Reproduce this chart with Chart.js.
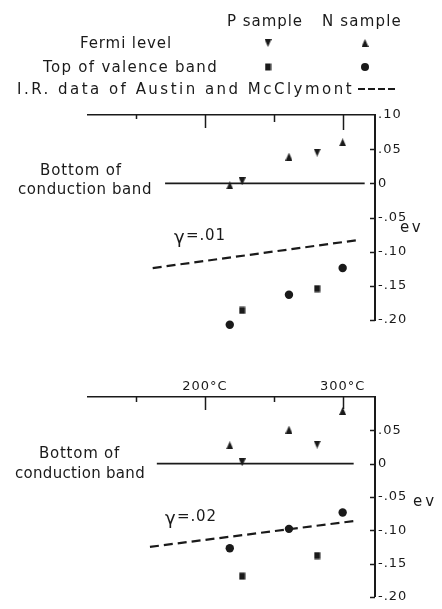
<!DOCTYPE html>
<html lang="en">
<head>
<meta charset="UTF-8">
<title>Fermi level and valence band vs temperature</title>
<script src="https://cdn.jsdelivr.net/npm/chart.js"></script>
<style>
    body { margin: 0; background: #fff; }
    .wrap { position: relative; width: 442px; height: 609px; }
    .panel { position: absolute; left: 0; width: 442px; }
    #top { top: 0; height: 340px; }
    #bottom { top: 340px; height: 269px; }
</style>
</head>
<body>
<div class="wrap">
    <div class="panel" id="top"><canvas id="chartTop"></canvas></div>
    <div class="panel" id="bottom"><canvas id="chartBottom"></canvas></div>
</div>
<script>
// temperatures of the runs (°C)
const tempN = [218, 261, 300];
const tempP = [227, 281.5];
const condLevel = [0, 0];

// upper panel, gamma = .01
const topFermiN = [-0.003, 0.039, 0.060];
const topFermiP = [0.003, 0.045];
const topValenceN = [-0.207, -0.163, -0.124];
const topValenceP = [-0.186, -0.154];
const topIRTemp = [162, 311];
const topIR = [-0.124, -0.083];
const topCondTemp = [171, 316];

// lower panel, gamma = .02
const botFermiN = [0.0275, 0.051, 0.079];
const botFermiP = [0.002, 0.0285];
const botValenceN = [-0.127, -0.098, -0.0735];
const botValenceP = [-0.169, -0.138];
const botIRTemp = [160, 309];
const botIR = [-0.125, -0.086];
const botCondTemp = [165, 308];

// axes
const xTicks = [150, 200, 250, 300];
const xTickLabels = ['', '200°C', '', '300°C'];
const yTicks = [0.10, 0.05, 0, -0.05, -0.10, -0.15, -0.20];
const topYLabels = ['.10', '.05', '0', '-.05', '-.10', '-.15', '-.20'];
const botYLabels = ['', '.05', '0', '-.05', '-.10', '-.15', '-.20'];

const ink = '#1a1a1a';
const FONT = '"DejaVu Sans"';
Chart.defaults.font.family = FONT;
Chart.defaults.color = ink;

function makeMark(kind) {
    const c = document.createElement('canvas');
    c.width = 7; c.height = 8;
    const g = c.getContext('2d');
    g.fillStyle = ink;
    g.beginPath();
    if (kind === 'up') { g.moveTo(3.5, 0); g.lineTo(7, 8); g.lineTo(0, 8); }
    else if (kind === 'down') { g.moveTo(0, 0); g.lineTo(7, 0); g.lineTo(3.5, 8); }
    else { g.rect(0.5, 0.5, 6, 7); }
    g.closePath();
    g.fill();
    return c;
}
const triUp = makeMark('up');
const triDown = makeMark('down');
const box = makeMark('box');

function pts(xs, ys) {
    return xs.map((x, i) => ({ x: x, y: ys[i] }));
}

// text stretched to the width it has in the figure
function fitText(ctx, t, x, y, w, size) {
    ctx.font = size + 'px ' + FONT;
    ctx.letterSpacing = '0px';
    const m = ctx.measureText(t).width;
    ctx.letterSpacing = ((w - m) / t.length) + 'px';
    ctx.textAlign = 'left';
    ctx.textBaseline = 'middle';
    ctx.fillText(t, x, y);
    ctx.letterSpacing = '0px';
}

function makeMarks(cfg) {
    return {
        id: 'marks',
        beforeDraw(chart) {
            chart.ctx.letterSpacing = '1px';
        },
        afterDraw(chart) {
            const ctx = chart.ctx;
            const a = chart.chartArea;
            const sx = chart.scales.x, sy = chart.scales.y;
            const off = cfg.offset;
            ctx.save();
            ctx.letterSpacing = '0px';
            ctx.strokeStyle = ink;
            ctx.fillStyle = ink;
            ctx.lineWidth = 1.5;
            // ticks pointing inward
            xTicks.forEach((v, i) => {
                const px = Math.round(sx.getPixelForValue(v)) + 0.5;
                ctx.beginPath();
                ctx.moveTo(px, a.top);
                ctx.lineTo(px, a.top + cfg.xTickLen[i]);
                ctx.stroke();
            });
            yTicks.forEach(v => {
                if (v >= 0.1) return;
                const py = Math.round(sy.getPixelForValue(v)) + 0.5;
                ctx.beginPath();
                ctx.moveTo(a.right, py);
                ctx.lineTo(a.right - 5, py);
                ctx.stroke();
            });
            // texts
            cfg.texts.forEach(t => fitText(ctx, t.t, t.x, t.y - off, t.w, t.size || 15));
            const gm = cfg.gamma;
            ctx.font = '18px ' + FONT;
            ctx.textAlign = 'left';
            ctx.textBaseline = 'middle';
            ctx.fillText('γ', gm.x, gm.y - off + 2);
            fitText(ctx, gm.t, gm.x + 12, gm.y - off, gm.w, 15);

            if (cfg.legend) {
                [[triDown, 268, 43], [box, 268, 67], [triUp, 365, 43]].forEach(m => {
                    ctx.drawImage(m[0], m[1] - 3.5, m[2] - 4);
                });
                ctx.beginPath();
                ctx.arc(365, 67, 4, 0, Math.PI * 2);
                ctx.fill();
                ctx.lineWidth = 2.2;
                ctx.setLineDash([7, 3]);
                ctx.beginPath();
                ctx.moveTo(358, 89);
                ctx.lineTo(396, 89);
                ctx.stroke();
                ctx.setLineDash([]);
            }
            ctx.restore();
        }
    };
}

function panel(id, d) {
    return new Chart(document.getElementById(id), {
        type: 'scatter',
        data: {
            datasets: [
                { label: 'N Fermi level', data: pts(tempN, d.fermiN), pointStyle: triUp },
                { label: 'P Fermi level', data: pts(tempP, d.fermiP), pointStyle: triDown },
                // wide transparent border so the point just below -.20 is not culled
                { label: 'N top of valence band', data: pts(tempN, d.valN), pointStyle: 'circle',
                  pointRadius: 4.2, backgroundColor: ink, borderWidth: 8, borderColor: 'rgba(0,0,0,0)' },
                { label: 'P top of valence band', data: pts(tempP, d.valP), pointStyle: box },
                { label: 'I.R. data', data: pts(d.irTemp, d.ir), showLine: true, borderColor: ink,
                  borderWidth: 2.2, borderDash: [9, 5], pointRadius: 0 },
                { label: 'Bottom of conduction band', data: pts(d.condTemp, condLevel), showLine: true,
                  borderColor: ink, borderWidth: 1.8, pointRadius: 0 }
            ]
        },
        options: {
            responsive: true,
            maintainAspectRatio: false,
            animation: false,
            events: [],
            datasets: { scatter: { clip: false } },
            layout: { padding: { left: 88, right: 0, top: d.padTop, bottom: d.padBottom } },
            plugins: { legend: { display: false }, tooltip: { enabled: false } },
            scales: {
                x: {
                    type: 'linear',
                    position: 'top',
                    min: 115,
                    max: 323.5,
                    afterBuildTicks: s => { s.ticks = xTicks.map(v => ({ value: v })); },
                    ticks: {
                        display: d.xLabels,
                        autoSkip: false,
                        maxRotation: 0,
                        padding: 3,
                        font: { size: 13 },
                        callback: (v, i) => xTickLabels[i]
                    },
                    grid: { display: false, drawTicks: false },
                    border: { display: true, color: ink, width: 1.6 },
                    afterFit: s => { s.height = d.xHeight; }
                },
                y: {
                    position: 'right',
                    min: -0.2,
                    max: 0.1,
                    afterBuildTicks: s => { s.ticks = yTicks.map(v => ({ value: v })); },
                    ticks: {
                        padding: 3,
                        font: { size: 13 },
                        callback: (v, i) => d.yLabels[i]
                    },
                    grid: { display: false, drawTicks: false },
                    border: { display: true, color: ink, width: 2 },
                    afterFit: s => { s.width = 67; }
                }
            }
        },
        plugins: [makeMarks(d.marks)]
    });
}

panel('chartTop', {
    fermiN: topFermiN, fermiP: topFermiP, valN: topValenceN, valP: topValenceP,
    irTemp: topIRTemp, ir: topIR, condTemp: topCondTemp,
    yLabels: topYLabels, xLabels: false,
    padTop: 105, padBottom: 20, xHeight: 10,
    marks: {
        offset: 0,
        legend: true,
        xTickLen: [4, 13, 7, 15],
        texts: [
            { t: 'P sample', x: 227, y: 22, w: 76 },
            { t: 'N sample', x: 322, y: 22, w: 80 },
            { t: 'Fermi level', x: 80, y: 44, w: 92 },
            { t: 'Top of valence band', x: 43, y: 68, w: 175 },
            { t: 'I.R. data of Austin and McClymont', x: 17, y: 90, w: 337 },
            { t: 'Bottom of', x: 40, y: 171, w: 82 },
            { t: 'conduction band', x: 18, y: 190, w: 134 },
            { t: 'ev', x: 400, y: 228, w: 23 }
        ],
        gamma: { t: '=.01', x: 174, y: 236, w: 40 }
    }
});

panel('chartBottom', {
    fermiN: botFermiN, fermiP: botFermiP, valN: botValenceN, valP: botValenceP,
    irTemp: botIRTemp, ir: botIR, condTemp: botCondTemp,
    yLabels: botYLabels, xLabels: true,
    padTop: 37, padBottom: 7, xHeight: 20,
    marks: {
        offset: 340,
        legend: false,
        xTickLen: [5, 13, 5, 12],
        texts: [
            { t: 'Bottom of', x: 39, y: 454, w: 81 },
            { t: 'conduction band', x: 15, y: 474, w: 130 },
            { t: 'ev', x: 413, y: 502, w: 24 }
        ],
        gamma: { t: '=.02', x: 165, y: 517, w: 40 }
    }
});
</script>
</body>
</html>
